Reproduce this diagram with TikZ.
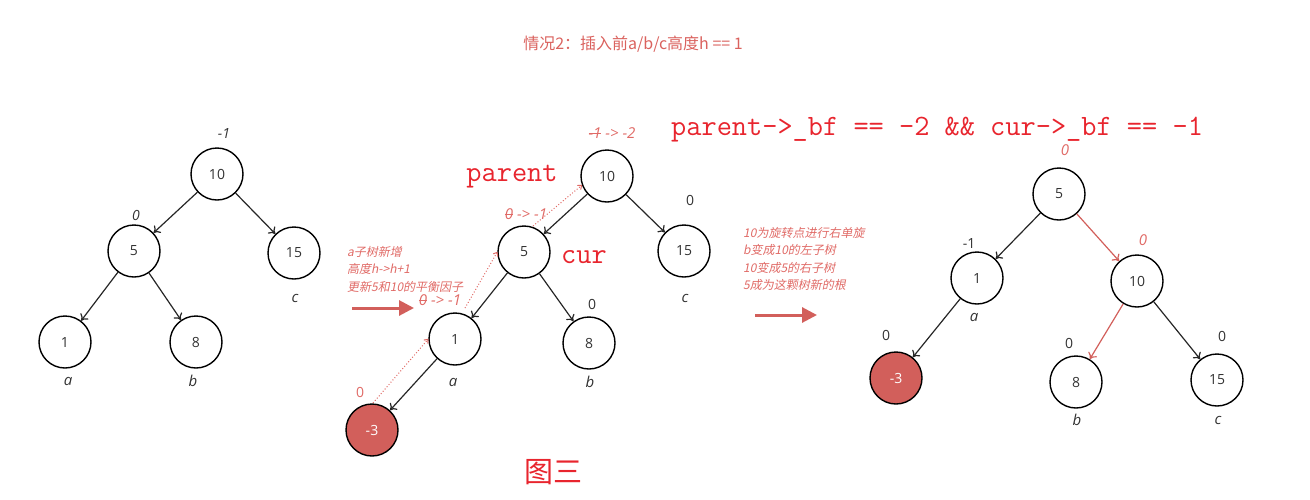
\documentclass[tikz,border=0pt]{standalone}
\usepackage{fontspec}
\setmainfont{Open Sans}
\newfontfamily\cjk{Noto Sans CJK SC}
\newfontfamily\cjkit[FakeSlant=0.2]{Noto Sans CJK SC}
\newcommand\strk[1]{\setbox0\hbox{#1}\rlap{\usebox0}\rule[0.3em]{\wd0}{0.6pt}}
\usetikzlibrary{arrows.meta}
\definecolor{nodered}{HTML}{D25F5B}
\definecolor{annored}{HTML}{E06A66}
\definecolor{bigred}{HTML}{E8252E}
\definecolor{titlered}{HTML}{DA625E}
\begin{document}
\begin{tikzpicture}[x=1pt,y=-1pt,
  nd/.style={circle, draw, line width=1.4pt, minimum size=52pt, inner sep=0pt, font=\fontsize{14}{16}\selectfont, text=black!80},
  rednd/.style={nd, fill=nodered, text=white},
  edge/.style={-{To[length=6pt,width=10pt]}, line width=1.2pt, black!85},
  redge/.style={edge, nodered},
  lab/.style={font=\fontsize{15}{17}\selectfont\itshape, text=black!80},
  bf/.style={font=\fontsize{14}{16}\selectfont, text=black!80},
  ibf/.style={font=\fontsize{14}{16}\selectfont\itshape, text=black!80},
  rbf/.style={font=\fontsize{15}{17}\selectfont\itshape, text=annored},
  rnum/.style={font=\fontsize{14}{16}\selectfont, text=annored},
  dotarr/.style={annored, dotted, line width=1pt, -{To[length=4pt,width=6pt]}},
  note/.style={font=\cjkit\fontsize{12}{17.5}\selectfont, text=annored, align=left, anchor=north west, inner sep=0pt},
  bigtxt/.style={font=\ttfamily\fontsize{29.5}{32}\selectfont, text=bigred},
  fatarrow/.style={nodered, line width=3pt, -{Triangle[length=15pt,width=15pt]}}
]
\useasboundingbox (0,0) rectangle (1310,499);

% title
\node[font=\cjk\fontsize{16}{18}\selectfont, text=titlered] (title) at (633,44) {情况2：插入前a/b/c高度h == 1};

% ---------- tree 1
\node[nd] (A10) at (217,174) {10};
\node[nd] (A5) at (134,251) {5};
\node[nd] (A15) at (294,253) {15};
\node[nd] (A1) at (65,342) {1};
\node[nd] (A8) at (196,342) {8};
\draw[edge] (A10) -- (A5);
\draw[edge] (A10) -- (A15);
\draw[edge] (A5) -- (A1);
\draw[edge] (A5) -- (A8);
\node[ibf] (Ab10) at (224,133) {-1};
\node[ibf] (Ab5) at (136,215) {0};
\node[lab] (Ac) at (295,298) {c};
\node[lab] (Aa) at (68,381) {a};
\node[lab] (Ab) at (193,381) {b};

% ---------- arrow 1 + note
\node[note] (note1) at (347,246) {a子树新增\\高度h->h+1\\更新5和10的平衡因子};
\coordinate (f1s) at (352,308);
\coordinate (f1e) at (414,308);
\draw[fatarrow] (f1s) -- (f1e);

% ---------- tree 2
\node[nd] (B10) at (607,176) {10};
\node[nd] (B5) at (524,252) {5};
\node[nd] (B15) at (684,251) {15};
\node[nd] (B1) at (455,339) {1};
\node[nd] (B8) at (589,343) {8};
\node[rednd] (Bm3) at (372,430) {-3};
\draw[edge] (B10) -- (B5);
\draw[edge] (B10) -- (B15);
\draw[edge] (B5) -- (B1);
\draw[edge] (B5) -- (B8);
\draw[edge] (B1) -- (Bm3);
\node[rbf] (Bb10) at (612,133) {\strk{-1} -> -2};
\node[bigtxt] (parent) at (512,177) {parent};
\node[rbf] (Bb5) at (526,214) {\strk{0} -> -1};
\node[bigtxt] (cur) at (584,257) {cur};
\node[bf] (Bb15) at (690,200) {0};
\node[rbf] (Bb1) at (440,300) {\strk{0} -> -1};
\node[bf] (Bb8) at (592,304) {0};
\node[rnum] (Bbm3) at (360,392) {0};
\node[lab] (Bc) at (685,298) {c};
\node[lab] (Ba) at (453,382) {a};
\node[lab] (Bb) at (590,382) {b};
\coordinate (d1s) at (373,403);
\coordinate (d2s) at (465,308);
\coordinate (d3s) at (533,226);
\draw[dotarr] (d1s) -- (B1.west);
\draw[dotarr] (d2s) -- (B5.west);
\draw[dotarr] (d3s) -- (B10.200);

\node[font=\cjk\fontsize{29}{32}\selectfont, text=bigred] (fig) at (553,472) {图三};

% ---------- formula
\node[bigtxt, anchor=west, inner sep=0pt] (formula) at (671,130) {parent->\_bf == -2 \&\& cur->\_bf == -1};

% ---------- arrow 2 + note
\node[note] (note2) at (743,227) {10为旋转点进行右单旋\\b变成10的左子树\\10变成5的右子树\\5成为这颗树新的根};
\coordinate (f2s) at (755,315);
\coordinate (f2e) at (817,315);
\draw[fatarrow] (f2s) -- (f2e);

% ---------- tree 3
\node[nd] (C5) at (1059,194) {5};
\node[nd] (C1) at (977,278) {1};
\node[nd] (C10) at (1137,281) {10};
\node[rednd] (Cm3) at (896,378) {-3};
\node[nd] (C8) at (1076,382) {8};
\node[nd] (C15) at (1217,380) {15};
\draw[edge] (C5) -- (C1);
\draw[redge] (C5) -- (C10);
\draw[edge] (C1) -- (Cm3);
\draw[redge] (C10) -- (C8);
\draw[edge] (C10) -- (C15);
\node[rbf] (Cb5) at (1065,150) {0};
\node[bf] (Cb1) at (969,243) {-1};
\node[rbf] (Cb10) at (1143,240) {0};
\node[lab] (Ca) at (974,317) {a};
\node[bf] (Cbm3) at (886,335) {0};
\node[bf] (Cb8) at (1069,343) {0};
\node[bf] (Cb15) at (1222,336) {0};
\node[lab] (Cb) at (1077,420) {b};
\node[lab] (Cc) at (1218,420) {c};
\end{tikzpicture}
\end{document}
